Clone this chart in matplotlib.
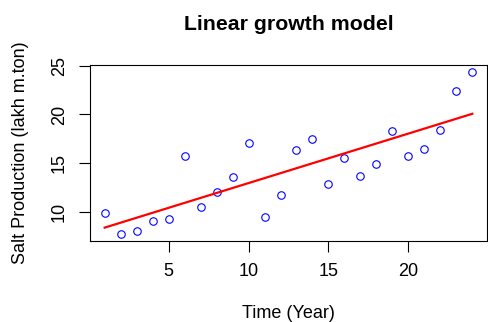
import matplotlib
matplotlib.use("Agg")
import matplotlib.pyplot as plt

plt.rcParams['font.family'] = ['Liberation Sans', 'DejaVu Sans']

# observed salt production by year
year = [1, 2, 3, 4, 5, 6, 7, 8, 9, 10, 11, 12,
        13, 14, 15, 16, 17, 18, 19, 20, 21, 22, 23, 24]
production = [9.93, 7.79, 8.06, 9.11, 9.29, 15.74, 10.54, 12.04, 13.6, 17.1, 9.52, 11.7,
              16.4, 17.5, 12.86, 15.54, 13.7, 14.93, 18.27, 15.74, 16.5, 18.37, 22.4, 24.39]

# fitted linear model (ends of the line)
fit_year = [1, 24]
fit_value = [8.4, 20.07]

fig = plt.figure(figsize=(4.88, 3.22), dpi=100)
ax = fig.add_axes([0.1844, 0.2516, 0.8136, 0.5465])

ax.plot(year, production, 'o', mfc='none', mec='#0000FF', ms=5.4, mew=0.8)
ax.plot(fit_year, fit_value, color='#FF0000', lw=1.6)

ax.set_xlim(0.08, 24.92)
ax.set_ylim(7.03, 25.07)
ax.set_xticks([5, 10, 15, 20])
ax.set_yticks([10, 15, 20, 25])

for s in ax.spines.values():
    s.set_linewidth(0.8)
ax.tick_params(axis='both', direction='out', length=8, width=0.8, labelsize=13)
ax.tick_params(axis='x', pad=8)
ax.tick_params(axis='y', pad=8)
for lab in ax.get_yticklabels():
    lab.set_rotation(90)
    lab.set_va('center')

ax.set_xlabel("Time (Year)", fontsize=13, labelpad=17.5)
ax.set_ylabel("Salt Production (lakh m.ton)", fontsize=13, labelpad=16)
ax.set_title("Linear growth model", fontsize=15.3, fontweight='bold', pad=25)

fig.savefig("out.png", dpi=100)
